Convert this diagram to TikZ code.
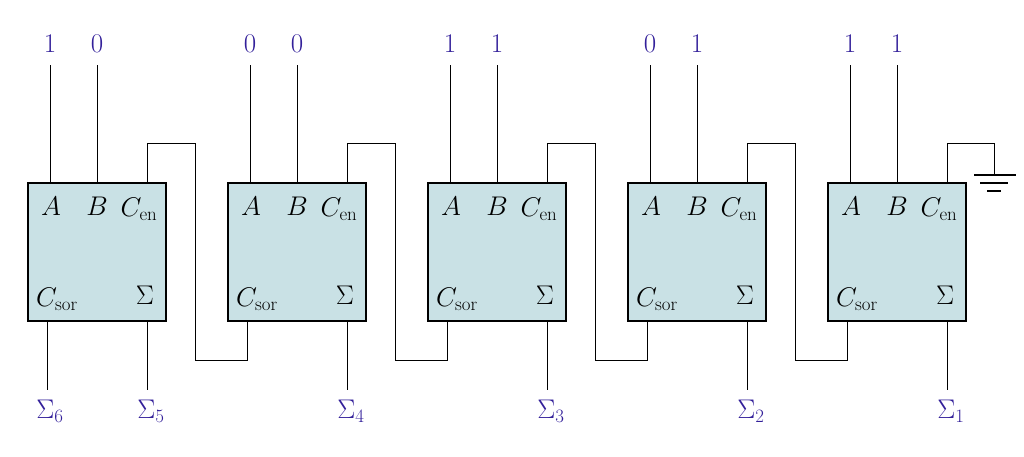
\documentclass[tikz,border=0pt]{standalone}
\usepackage{fix-cm}
\begin{document}
\begin{tikzpicture}[x=1pt,y=-1pt,
  blk/.style={draw,line width=1.6pt,fill=boxc,minimum width=138pt,minimum height=138pt,anchor=north west,inner sep=0},
  wire/.style={line width=0.9pt},
  lbl/.style={text=labc,font=\fontsize{27}{30}\selectfont},
  pin/.style={font=\fontsize{27}{30}\selectfont}]
\definecolor{boxc}{HTML}{C9E1E5}
\definecolor{labc}{HTML}{33209A}
\useasboundingbox (0,0) rectangle (1024,456);
\foreach \i/\a/\b/\s in {0/1/0/5,1/0/0/4,2/1/1/3,3/0/1/2,4/1/1/1}{
  \pgfmathsetmacro\X{27+200*\i}
  \node[blk] (b\i) at (\X,182) {};
  \node[pin] (pa\i) at (\X+24,206) {$A$};
  \node[pin] (pb\i) at (\X+70,206) {$B$};
  \node[pin] (pc\i) at (\X+112,209) {$C_{\mathrm{en}}$};
  \node[pin] (pcs\i) at (\X+30,299) {$C_{\mathrm{sor}}$};
  \node[pin] (ps\i) at (\X+118,295) {$\Sigma$};
  \coordinate (ta\i) at (\X+23,65);
  \coordinate (tb\i) at (\X+70,65);
  \node[lbl] (la\i) at (\X+23,44) {\a};
  \node[lbl] (lb\i) at (\X+70,44) {\b};
  \draw[wire] (ta\i) -- (\X+23,182);
  \draw[wire] (tb\i) -- (\X+70,182);
  \coordinate (cs\i) at (\X+20,320);
  \coordinate (ss\i) at (\X+120,320);
  \coordinate (ce\i) at (\X+120,182);
  \draw[wire] (ss\i) -- (\X+120,390);
  \node[lbl] (sl\i) at (\X+124,411) {$\Sigma_{\s}$};
}
\draw[wire] (cs0) -- (47,390);
\node[lbl] (s6) at (50,411) {$\Sigma_6$};
\foreach \i/\j in {0/1,1/2,2/3,3/4}{
  \draw[wire] (ce\i) -- ++(0,-39) -- ++(48,0) -- ++(0,217) -- (cs\j |- 0,360) -- (cs\j);
}
\coordinate (g) at (994,175);
\draw[wire] (ce4) -- ++(0,-39) -- (994,143) -- (g);
\draw[line width=1.6pt] (974,175) -- (1016,175) (980,183) -- (1008,183) (987,191) -- (1001,191);
\end{tikzpicture}
\end{document}
